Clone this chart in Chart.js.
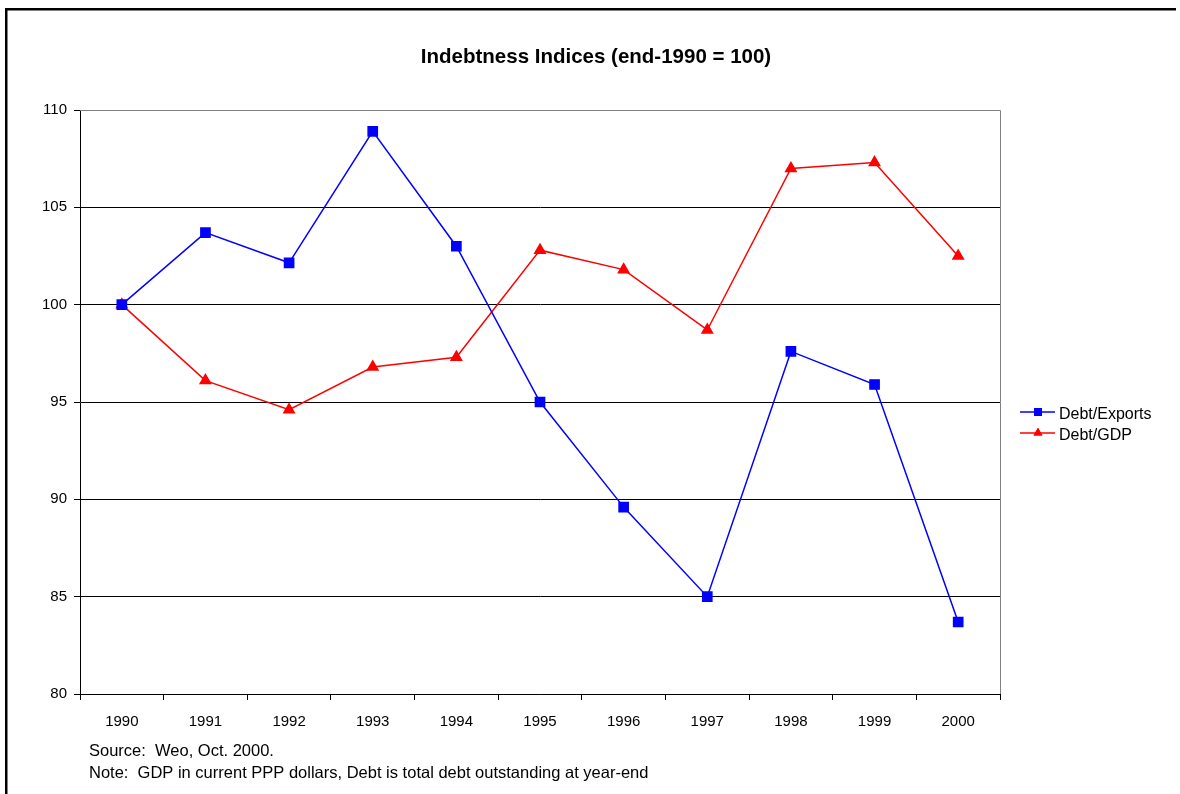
<!DOCTYPE html>
<html>
<head>
<meta charset="utf-8">
<script src="https://cdn.jsdelivr.net/npm/chart.js@4.4.0/dist/chart.umd.min.js"></script>
<style>
  html, body { margin: 0; padding: 0; background: #fff; }
  #wrap { position: relative; width: 1180px; height: 794px; }
  canvas { display: block; }
</style>
</head>
<body>
<div id="wrap"><canvas id="chart" width="1180" height="794"></canvas></div>
<script>
// chart data
const years = ["1990", "1991", "1992", "1993", "1994", "1995", "1996", "1997", "1998", "1999", "2000"];
const debtExports = [100, 103.7, 102.15, 108.9, 103.0, 95.0, 89.6, 85.0, 97.6, 95.9, 83.7];
const debtGdp = [100, 96.1, 94.6, 96.8, 97.3, 102.8, 101.8, 98.7, 107.0, 107.3, 102.5];
const yTicks = [80, 85, 90, 95, 100, 105, 110];

const titleText = "Indebtness Indices (end-1990 = 100)";
const footnotes = [
  "Source:  Weo, Oct. 2000.",
  "Note:  GDP in current PPP dollars, Debt is total debt outstanding at year-end"
];
const FONT = "'Liberation Sans', Arial, sans-serif";

// frame, title, footnotes, plot border and legend
const decorations = {
  id: "decorations",
  beforeDraw(chart) {
    const ctx = chart.ctx;
    ctx.save();
    ctx.fillStyle = "#000";
    ctx.fillRect(5, 8, 1171, 2.5);
    ctx.fillRect(5, 8, 2.5, 786);
    ctx.restore();
  },
  afterDatasetsDraw(chart) {
    const ctx = chart.ctx;
    const a = chart.chartArea;
    ctx.save();
    // gray border on top and right of plot
    ctx.strokeStyle = "#808080";
    ctx.lineWidth = 1;
    ctx.beginPath();
    ctx.moveTo(a.left, a.top + 0.5);
    ctx.lineTo(a.right + 0.5, a.top + 0.5);
    ctx.lineTo(a.right + 0.5, a.bottom);
    ctx.stroke();

    ctx.fillStyle = "#000";
    ctx.font = "bold 20.5px " + FONT;
    ctx.textAlign = "center";
    ctx.textBaseline = "alphabetic";
    ctx.fillText(titleText, 596, 63);

    ctx.font = "16.5px " + FONT;
    ctx.textAlign = "left";
    footnotes.forEach((t, i) => ctx.fillText(t, 89, 756 + i * 22));

    // legend
    ctx.font = "16px " + FONT;
    const items = chart.data.datasets;
    items.forEach((ds, i) => {
      const y = 412 + i * 21;
      ctx.strokeStyle = ds.borderColor;
      ctx.lineWidth = 1.5;
      ctx.beginPath();
      ctx.moveTo(1020, y);
      ctx.lineTo(1055, y);
      ctx.stroke();
      ctx.fillStyle = ds.pointBackgroundColor;
      Chart.helpers.drawPoint(ctx, {
        pointStyle: ds.pointStyle, radius: ds.pointRadius - 0.8, borderWidth: 0
      }, 1038, y);
      ctx.fill();
      ctx.fillStyle = "#000";
      ctx.fillText(ds.label, 1059, y + 7);
    });
    ctx.restore();
  }
};

new Chart(document.getElementById("chart"), {
  type: "line",
  data: {
    labels: years,
    datasets: [{
      label: "Debt/Exports",
      data: debtExports,
      borderColor: "#0000FF",
      backgroundColor: "#0000FF",
      pointBackgroundColor: "#0000FF",
      pointBorderColor: "#0000FF",
      pointStyle: "rect",
      pointRadius: 6.5,
      borderWidth: 1.5,
      tension: 0
    }, {
      label: "Debt/GDP",
      data: debtGdp,
      borderColor: "#FF0000",
      backgroundColor: "#FF0000",
      pointBackgroundColor: "#FF0000",
      pointBorderColor: "#FF0000",
      pointStyle: "triangle",
      pointRadius: 6,
      borderWidth: 1.5,
      tension: 0
    }]
  },
  options: {
    responsive: false,
    animation: false,
    layout: { padding: { left: 0, top: 110, right: 180, bottom: 0 } },
    plugins: {
      legend: { display: false },
      title: { display: false },
      tooltip: { enabled: false }
    },
    scales: {
      x: {
        offset: true,
        afterFit: s => { s.height = 100; },
        grid: {
          offset: true,
          drawOnChartArea: false,
          drawTicks: true,
          tickLength: 6,
          color: "#000"
        },
        border: { color: "#000", width: 1 },
        ticks: {
          color: "#000",
          padding: 13,
          font: { family: FONT, size: 15 }
        }
      },
      y: {
        min: 80,
        max: 110,
        afterFit: s => { s.width = 80; },
        afterBuildTicks: s => { s.ticks = yTicks.map(v => ({ value: v })); },
        grid: {
          color: c => (c.tick && c.tick.value === 110 ? "#808080" : "#000"),
          tickColor: "#000",
          tickLength: 6,
          lineWidth: 1
        },
        border: { color: "#000", width: 1 },
        ticks: {
          color: "#000",
          padding: 7,
          font: { family: FONT, size: 15 }
        }
      }
    }
  },
  plugins: [decorations]
});
</script>
</body>
</html>
